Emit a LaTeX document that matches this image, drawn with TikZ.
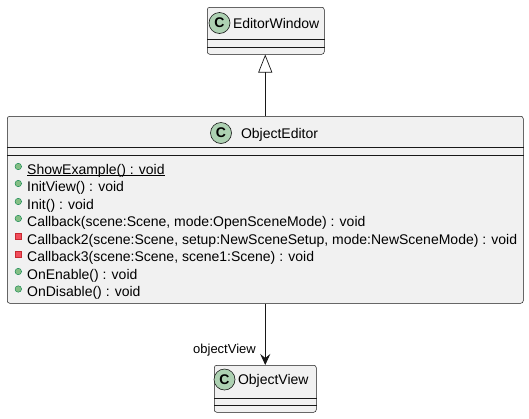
\documentclass[tikz,border=0pt]{standalone}
\usepackage{fontspec}
\setmainfont{Liberation Sans}
\usepackage{xcolor}
\definecolor{umlBorder}{HTML}{181818}
\definecolor{umlBack}{HTML}{F1F1F1}
\definecolor{umlTag}{HTML}{ADD1B2}
\definecolor{umlPublic}{HTML}{84BE84}
\definecolor{umlPublicLine}{HTML}{038048}
\definecolor{umlPrivate}{HTML}{F24D5C}
\definecolor{umlPrivateLine}{HTML}{C82930}
\usetikzlibrary{positioning,arrows.meta}

\tikzset{
  classbox/.style={draw=umlBorder, fill=umlBack, line width=0.5pt, rounded corners=2.5pt,
    anchor=north west, inner sep=0pt},
  sepline/.style={draw=umlBorder, line width=0.5pt},
  classtag/.style={circle, draw=umlBorder, fill=umlTag, line width=0.6pt, minimum size=21pt,
    inner sep=0pt, font=\fontsize{14}{14}\selectfont\bfseries},
  classname/.style={inner sep=0pt, text height=10pt, text depth=0pt, font=\fontsize{14}{16}\selectfont},
  member/.style={inner sep=0pt, anchor=base west, font=\fontsize{14}{16}\selectfont},
  pubicon/.style={circle, draw=umlPublicLine, fill=umlPublic, line width=0.4pt, minimum size=6.5pt, inner sep=0pt},
  privicon/.style={rectangle, draw=umlPrivateLine, fill=umlPrivate, line width=0.4pt, minimum size=6pt, inner sep=0pt},
  rolelabel/.style={inner sep=0pt, text height=9.5pt, text depth=0pt, font=\fontsize{13}{15}\selectfont},
  inherit/.style={draw=umlBorder, line width=0.7pt, -{Triangle[open, length=18pt, width=14pt, line width=0.7pt]}},
  assoc/.style={draw=umlBorder, line width=0.7pt, -{Stealth[length=11pt, width=10pt, inset=4pt]}}
}

\begin{document}
\begin{tikzpicture}[x=1pt, y=-1pt]
  \useasboundingbox (0,0) rectangle (529,418);

  % EditorWindow
  \node[classbox, minimum width=117pt, minimum height=47pt] (editorwindow) at (207,7) {};
  \draw[sepline] ([yshift=-32pt]editorwindow.north west) -- ([yshift=-32pt]editorwindow.north east);
  \draw[sepline] ([yshift=-40pt]editorwindow.north west) -- ([yshift=-40pt]editorwindow.north east);
  \node[classtag] (ewtag) at (219.5,23) {C};
  \node[classname, right=2.5pt of ewtag] (ewname) {EditorWindow};

  % ObjectEditor
  \node[classbox, minimum width=516pt, minimum height=187pt] (objecteditor) at (7,116) {};
  \draw[sepline] ([yshift=-31pt]objecteditor.north west) -- ([yshift=-31pt]objecteditor.north east);
  \draw[sepline] ([yshift=-39pt]objecteditor.north west) -- ([yshift=-39pt]objecteditor.north east);
  \node[classtag] (oetag) at (221,133) {C};
  \node[classname, right=9pt of oetag] (oename) {ObjectEditor};

  \node[pubicon] (icon1) at (18.3,166.5) {};
  \node[member] (member1) at (27,174) {ShowExample() : void};
  \draw[line width=0.7pt] ([yshift=-1.8pt]member1.base west) -- ([yshift=-1.8pt]member1.base east);
  \node[pubicon] (icon2) at (18.3,183.5) {};
  \node[member] (member2) at (27,191) {InitView() : void};
  \node[pubicon] (icon3) at (18.3,201.5) {};
  \node[member] (member3) at (27,209) {Init() : void};
  \node[pubicon] (icon4) at (18.3,218.5) {};
  \node[member] (member4) at (27,226.5) {Callback(scene:Scene, mode:OpenSceneMode) : void};
  \node[privicon] (icon5) at (18.5,236.5) {};
  \node[member] (member5) at (27,244) {Callback2(scene:Scene, setup:NewSceneSetup, mode:NewSceneMode) : void};
  \node[privicon] (icon6) at (18.5,254) {};
  \node[member] (member6) at (27,261.5) {Callback3(scene:Scene, scene1:Scene) : void};
  \node[pubicon] (icon7) at (18.3,271.5) {};
  \node[member] (member7) at (27,279) {OnEnable() : void};
  \node[pubicon] (icon8) at (18.3,289) {};
  \node[member] (member8) at (27,296.5) {OnDisable() : void};

  % ObjectView
  \node[classbox, minimum width=102pt, minimum height=47pt] (objectview) at (214,365) {};
  \draw[sepline] ([yshift=-33pt]objectview.north west) -- ([yshift=-33pt]objectview.north east);
  \draw[sepline] ([yshift=-40pt]objectview.north west) -- ([yshift=-40pt]objectview.north east);
  \node[classtag] (ovtag) at (224.5,379.5) {C};
  \node[classname, right=2.5pt of ovtag] (ovname) {ObjectView};

  % relations
  \draw[inherit] (objecteditor.north) -- (objecteditor.north |- editorwindow.south);
  \draw[assoc] (objecteditor.south) -- (objectview.north);
  \node[rolelabel, anchor=east] (rolename) at (256,349) {objectView};
\end{tikzpicture}
\end{document}
